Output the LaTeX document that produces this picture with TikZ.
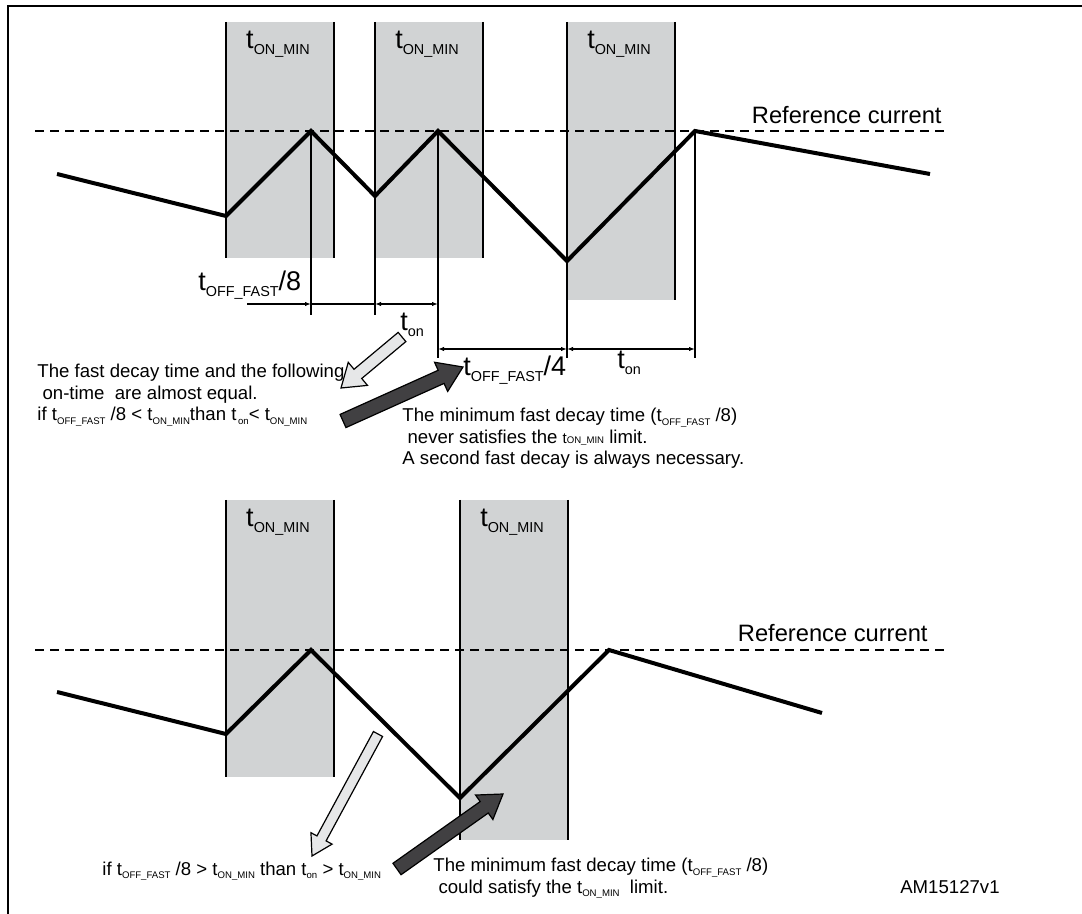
\documentclass[tikz,border=0pt]{standalone}
\usepackage{fontspec}
\setmainfont{Liberation Sans}
\usepackage{xcolor}
\usetikzlibrary{calc,arrows.meta}
\definecolor{wingray}{RGB}{209,211,212}
\definecolor{hintlight}{RGB}{230,231,232}
\definecolor{hintdark}{RGB}{65,64,66}
\newcommand\bigsub[1]{\raisebox{-2.8pt}{\fontsize{7.2}{8}\selectfont #1}}
\newcommand\smallsub[1]{\raisebox{-1.8pt}{\fontsize{4.8}{5}\selectfont #1}}
% block arrow: style, tail, tip, half shaft, half head, head length
\newcommand\fatarrow[6]{%
 \coordinate (fa-base) at ($(#3)!#6!(#2)$);
 \filldraw[#1] ($(#2)!#4!90:(#3)$) -- ($(fa-base)!#4!90:(#3)$)
  -- ($(fa-base)!#5!90:(#3)$) -- (#3) -- ($(fa-base)!#5!-90:(#3)$)
  -- ($(fa-base)!#4!-90:(#3)$) -- ($(#2)!#4!-90:(#3)$) -- cycle;
}
\tikzset{
 onwin/.style={fill=wingray, draw=none},
 guide/.style={line width=0.65pt},
 wave/.style={line width=2pt, line join=miter},
 refline/.style={line width=0.6pt, dash pattern=on 4.5pt off 3pt},
 dimtip/.style={guide, {Latex[length=3pt,width=2.2pt]}-{Latex[length=3pt,width=2.2pt]}},
 dimto/.style={guide, -{Latex[length=3pt,width=2.2pt]}},
 winlabel/.style={font=\fontsize{13.5}{15}\selectfont, inner sep=0pt, anchor=base},
 biglabel/.style={font=\fontsize{13.5}{15}\selectfont, inner sep=0pt, anchor=base west},
 reflabel/.style={font=\fontsize{11.85}{14}\selectfont, inner sep=0pt, anchor=base east},
 note/.style={font=\fontsize{9.3}{10.75}\selectfont, inner sep=0pt, align=left,
        anchor=north west},
 hint light/.style={fill=hintlight, draw=black, line width=0.6pt, line join=miter},
 hint dark/.style={fill=hintdark, draw=black, line width=0.6pt, line join=miter},
}

\begin{document}
\begin{tikzpicture}[x=0.5pt,y=-0.5pt]
\useasboundingbox (0,0) rectangle (1082,914);
\draw[line width=1.1pt] (1082,6) -- (8,6) -- (8,914);

% Upper plot: three t_ON_MIN windows, each starts at a valley of the current.
\foreach \xl/\hl/\hb [count=\i] in {%
 226/258/258, 375/315/258, 567/358/300%
}{
 \fill[onwin] (\xl,22) rectangle ({\xl+108},\hb);
 \draw[guide] (\xl,22) -- (\xl,\hl) (\xl+108,22) -- (\xl+108,\hb);
 \node[winlabel] (win\i) at (\xl+52,49) {t\bigsub{ON\_MIN}};
}
\coordinate (a0) at (57,174);  \coordinate (a1) at (226,216);
\coordinate (a2) at (311,131); \coordinate (a3) at (375,196);
\coordinate (a4) at (438,131); \coordinate (a5) at (567,261);
\coordinate (a6) at (695,131); \coordinate (a7) at (930,174);
\draw[refline] (35,131) -- (945,131);
\node[reflabel] (reftop) at (942,124) {Reference current};
\draw[guide] (a2) -- ++(0,184) (a4) -- ++(0,227) (a6) -- ++(0,227);
\draw[wave] (a0) -- (a1) -- (a2) -- (a3) -- (a4) -- (a5) -- (a6) -- (a7);

% dimension rows under the upper plot
\coordinate (row1) at (0,304);
\coordinate (row2) at (0,349);
\coordinate (row1s) at (247,304);
\draw[dimto] (row1s) -- (a2 |- row1);
\draw[guide] (a2 |- row1) -- (a3 |- row1);
\draw[dimtip] (a3 |- row1) -- (a4 |- row1);
\draw[dimtip] (a4 |- row2) -- (a5 |- row2);
\draw[dimtip] (a5 |- row2) -- (a6 |- row2);
\node[biglabel] (toff8) at (198,291) {t\bigsub{OFF\_FAST}/8};
\node[biglabel] (ton1) at (400,331) {t\bigsub{on}};
\node[biglabel] (toff4) at (463,376) {t\bigsub{OFF\_FAST}/4};
\node[biglabel] (ton2) at (617,369) {t\bigsub{on}};

\node[note] (noteA) at (37,364) {The fast decay time and the following\\
 \ on-time~ are almost equal.\\
 if t\smallsub{OFF\_FAST} /8 < t\smallsub{ON\_MIN}than t\smallsub{\,on}< t\smallsub{ON\_MIN}};
\node[note] (noteB) at (402,408) {The minimum fast decay time (t\smallsub{OFF\_FAST} /8)\\
 \ never satisfies the {\fontsize{7.5}{8}\selectfont t}{\fontsize{4.8}{5}\selectfont ON\_MIN} limit.\\
 A second fast decay is always necessary.};
\coordinate (lt1) at (402,337); \coordinate (lh1) at (341,388);
\fatarrow{hint light}{lt1}{lh1}{3pt}{7.5pt}{11pt}
\coordinate (dt1) at (343,421); \coordinate (dh1) at (463,367);
\fatarrow{hint dark}{dt1}{dh1}{3.6pt}{8pt}{12pt}

% Lower plot: a longer fast decay, two windows only.
\foreach \xl/\hb [count=\i from 4] in {226/777, 460/840}{
 \fill[onwin] (\xl,500) rectangle ({\xl+108},\hb);
 \draw[guide] (\xl,500) -- (\xl,\hb) (\xl+108,500) -- (\xl+108,\hb);
 \node[winlabel] (win\i) at (\xl+52,527) {t\bigsub{ON\_MIN}};
}
\coordinate (b0) at (57,692);  \coordinate (b1) at (226,734);
\coordinate (b2) at (311,650); \coordinate (b3) at (460,798);
\coordinate (b4) at (609,650); \coordinate (b5) at (822,713);
\draw[refline] (35,650) -- (945,650);
\node[reflabel] (reflow) at (928,641) {Reference current};
\draw[wave] (b0) -- (b1) -- (b2) -- (b3) -- (b4) -- (b5);

\node[note, anchor=base west] (noteC) at (102,875)
 {if t\smallsub{OFF\_FAST} /8 > t\smallsub{ON\_MIN} than t\smallsub{on} > t\smallsub{ON\_MIN}};
\node[note] (noteD) at (433,858) {The minimum fast decay time (t\smallsub{OFF\_FAST} /8)\\
 \ could satisfy the t\smallsub{ON\_MIN}~ limit.};
\coordinate (lt2) at (378,734); \coordinate (lh2) at (312,856);
\fatarrow{hint light}{lt2}{lh2}{2.6pt}{6pt}{10pt}
\coordinate (dt2) at (397,869); \coordinate (dh2) at (503,794);
\fatarrow{hint dark}{dt2}{dh2}{3.5pt}{7.5pt}{11.5pt}

\node[note, anchor=base east] (figid) at (1000,893) {AM15127v1};
\end{tikzpicture}
\end{document}
